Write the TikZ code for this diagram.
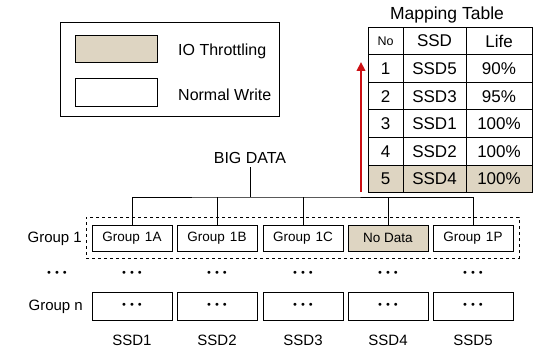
\documentclass[tikz,border=0pt]{standalone}
\usepackage{fontspec}
\setmainfont{Liberation Sans}
\newfontfamily\dotfont{DejaVu Sans}
\usetikzlibrary{arrows.meta}
\definecolor{throttle}{RGB}{222,213,194}
\definecolor{arrowred}{RGB}{204,16,20}
\newcommand{\tripledots}{{\dotfont\fontsize{10}{10}\selectfont •\hspace{2pt}•\hspace{2pt}•}}
\tikzset{
  base/.style={font=\fontsize{15}{17}\selectfont},
  mid/.style={font=\fontsize{16}{18}\selectfont},
  gbox/.style={draw, line width=1pt, minimum width=80pt, minimum height=26pt, inner sep=0pt, font=\fontsize{13.5}{15}\selectfont},
  nbox/.style={draw, line width=1pt, minimum width=80pt, minimum height=28pt, inner sep=0pt},
  cell/.style={draw, line width=1pt, inner sep=0pt, font=\fontsize{17}{19}\selectfont},
  hot/.style={fill=throttle},
  wire/.style={line width=1pt},
}
\begin{document}
\begin{tikzpicture}[x=1pt,y=-1pt]
\useasboundingbox (0,0) rectangle (541,350);

% legend
\node[draw, line width=1pt, minimum width=219pt, minimum height=94pt, inner sep=0pt] (legend) at (169.5,70) {};
\node[draw, line width=1pt, hot, minimum width=82pt, minimum height=27pt, inner sep=0pt] (swhot) at (116,49.5) {};
\node[draw, line width=1pt, minimum width=82pt, minimum height=28pt, inner sep=0pt] (swnorm) at (116,93) {};
\node[mid, anchor=west, inner sep=0pt] (lhot) at (178,51) {IO Throttling};
\node[mid, anchor=west, inner sep=0pt] (lnorm) at (178,95) {Normal Write};

% mapping table
\node[font=\fontsize{17.5}{19}\selectfont] (title) at (447,15) {Mapping Table};
\foreach \r/\no/\ssd/\life in {0/No/SSD/Life,1/1/SSD5/90\%,2/2/SSD3/95\%,3/3/SSD1/100\%,4/4/SSD2/100\%,5/5/SSD4/100\%}{
  \pgfmathsetmacro{\yc}{41+27.6*\r}
  \ifnum\r=5 \def\cellfill{hot}\else\def\cellfill{}\fi
  \node[cell, \cellfill, minimum width=35pt, minimum height=27.6pt] (no\r) at (385.5,\yc) {\ifnum\r=0 \fontsize{12.5}{14}\selectfont\fi\no};
  \node[cell, \cellfill, minimum width=63pt, minimum height=27.6pt] (ssd\r) at (434.5,\yc) {\ssd};
  \node[cell, \cellfill, minimum width=66pt, minimum height=27.6pt] (life\r) at (499,\yc) {\life};
}

% priority arrow
\coordinate (abot) at (361,192);
\coordinate (atop) at (361,62);
\draw[arrowred, line width=2.4pt, -{Triangle[length=9pt,width=8.5pt]}] (abot) -- (atop);

% data distribution
\node[mid] (big) at (250,158) {BIG DATA};
\coordinate (bus) at (250,197);

\node[draw, dashed, line width=1pt, minimum width=433pt, minimum height=41pt, inner sep=0pt] (grp) at (302.5,237.5) {};

\node[gbox] (g1a) at (132,238) {Group\hspace{5pt}1A};
\node[gbox] (g1b) at (217,238) {Group\hspace{5pt}1B};
\node[gbox] (g1c) at (303,238) {Group\hspace{5pt}1C};
\node[gbox, hot] (g1d) at (388,238) {No Data};
\node[gbox] (g1p) at (473,238) {Group\hspace{5pt}1P};

\draw[wire] (big.south) -- (bus);
\draw[wire] (g1a.north) |- (bus) -| (g1p.north);
\foreach \n in {g1b,g1c,g1d}{\draw[wire] (\n.north) -- (\n.north |- bus);}

\node[base, anchor=east, inner sep=0pt] (lg1) at (82,239) {Group 1};
\node[base, anchor=east, inner sep=0pt] (lgn) at (83,307) {Group n};

% ellipsis row
\node (d0) at (57,274) {\tripledots};
\foreach \x [count=\k] in {132,217,303,388,473}{
  \node (d\k) at (\x,274) {\tripledots};
  \node[nbox] (gn\k) at (\x,306) {\tripledots};
  \node[base] (s\k) at (\x,340) {SSD\k};
}
\end{tikzpicture}
\end{document}
